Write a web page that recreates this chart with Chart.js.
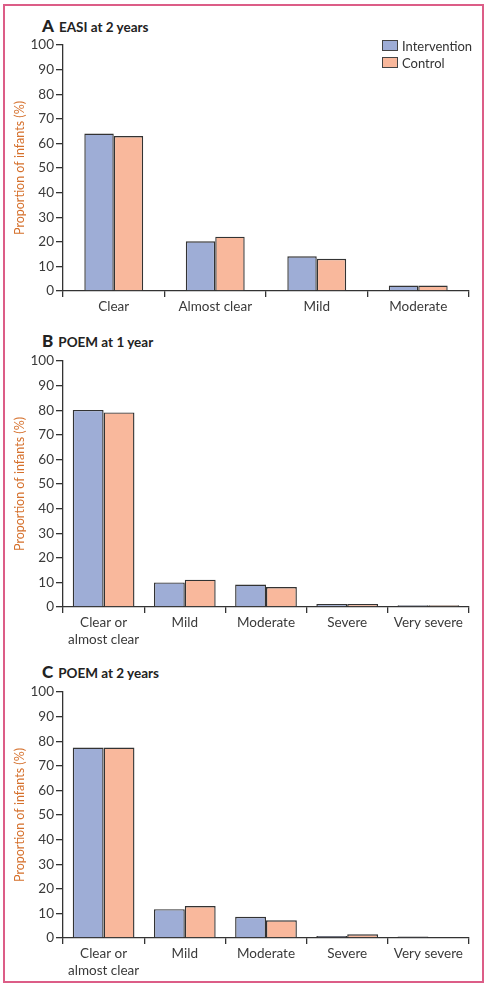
<!DOCTYPE html>
<html>
<head>
<meta charset="utf-8">
<script src="https://cdn.jsdelivr.net/npm/chart.js@4.4.0/dist/chart.umd.min.js"></script>
<style>
  body { margin: 0; background: #fff; font-family: Lato, "Open Sans", sans-serif; }
  #page { position: relative; width: 488px; height: 985px; }
  #frame { position: absolute; left: 3px; top: 4px; width: 477px; height: 975px; border: 2px solid #dc5d87; }
  .panel { position: absolute; left: 0; width: 488px; }
  .ttl { position: absolute; left: 42px; font-weight: bold; color: #222; white-space: nowrap; }
  .ttl b { font-size: 17px; margin-right: 5px; }
  .ttl span { font-size: 13.5px; }
  #legend { position: absolute; left: 382px; top: 37px; font-size: 13px; color: #333; }
  #legend div { display: flex; align-items: center; height: 17px; }
  #legend i { display: inline-block; width: 14px; height: 9px; border: 1px solid #444; margin-right: 4px; }
</style>
</head>
<body>
<div id="page">
  <div id="frame"></div>
  <div class="ttl" style="top:15px"><b>A</b><span>EASI at 2 years</span></div>
  <div class="ttl" style="top:330px"><b>B</b><span>POEM at 1 year</span></div>
  <div class="ttl" style="top:661px"><b>C</b><span>POEM at 2 years</span></div>
  <div class="panel" style="top:30px;height:289px"><canvas id="chartA"></canvas></div>
  <div class="panel" style="top:346px;height:305px"><canvas id="chartB"></canvas></div>
  <div class="panel" style="top:677px;height:305px"><canvas id="chartC"></canvas></div>
  <div id="legend"></div>
</div>
<script>
// panel A - EASI at 2 years
const labelsA = ['Clear', 'Almost clear', 'Mild', 'Moderate']
const interventionA = [64, 20.2, 14.1, 2.2]
const controlA = [63, 22.1, 13.1, 2.2]

// panel B - POEM at 1 year
const labelsB = [['Clear or', 'almost clear'], 'Mild', 'Moderate', 'Severe', 'Very severe']
const interventionB = [80.1, 10, 9.1, 1.2, 0.7]
const controlB = [79.1, 11.1, 8.1, 1.2, 0.7]

// panel C - POEM at 2 years
const labelsC = [['Clear or', 'almost clear'], 'Mild', 'Moderate', 'Severe', 'Very severe']
const interventionC = [77.4, 11.7, 8.6, 0.8, 0.6]
const controlC = [77.4, 13, 7.2, 1.5, 0]

const yTicks = [0, 10, 20, 30, 40, 50, 60, 70, 80, 90, 100]

const blue = '#9eadd6'
const salmon = '#f9b89c'
const edge = '#333'
const axisCol = '#333'
const font = 'Lato, "Open Sans", sans-serif'

function makeChart(id, labels, inter, ctrl, barPct, xHeight) {
  return new Chart(document.getElementById(id), {
    type: 'bar',
    data: {
      labels: labels,
      datasets: [
        { label: 'Intervention', data: inter, backgroundColor: blue, borderColor: edge, borderWidth: 1.4 },
        { label: 'Control', data: ctrl, backgroundColor: salmon, borderColor: edge, borderWidth: 1.4 }
      ]
    },
    options: {
      responsive: true,
      maintainAspectRatio: false,
      animation: false,
      layout: { padding: { left: 10, right: 19, top: 15, bottom: 0 } },
      datasets: { bar: { categoryPercentage: barPct, barPercentage: 1 } },
      plugins: { legend: { display: false }, tooltip: { enabled: false } },
      scales: {
        x: {
          grid: { offset: true, drawOnChartArea: false, tickLength: 6, color: axisCol, tickColor: axisCol, lineWidth: 1.3 },
          border: { color: axisCol, width: 1.3 },
          ticks: { color: '#3a3a3a', font: { family: font, size: 13.5 }, padding: 2, maxRotation: 0, autoSkip: false },
          afterFit: s => { s.height = xHeight }
        },
        y: {
          min: 0, max: 100,
          afterBuildTicks: s => { s.ticks = yTicks.map(v => ({ value: v })) },
          grid: { drawOnChartArea: false, tickLength: 7, tickColor: axisCol, lineWidth: 1.3 },
          border: { color: axisCol, width: 1.3 },
          ticks: { color: '#3a3a3a', font: { family: font, size: 13.5 }, padding: 2 },
          title: { display: true, text: 'Proportion of infants (%)', color: '#d5702c', font: { family: font, size: 12.5 }, padding: 2 },
          afterFit: s => { s.width = 53 }
        }
      }
    }
  })
}

const chartA = makeChart('chartA', labelsA, interventionA, controlA, 0.58, 28)
makeChart('chartB', labelsB, interventionB, controlB, 0.76, 44)
makeChart('chartC', labelsC, interventionC, controlC, 0.76, 44)

// legend built from panel A datasets
const leg = document.getElementById('legend')
chartA.data.datasets.forEach(ds => {
  const row = document.createElement('div')
  row.innerHTML = '<i style="background:' + ds.backgroundColor + '"></i>' + ds.label
  leg.appendChild(row)
})
</script>
</body>
</html>
